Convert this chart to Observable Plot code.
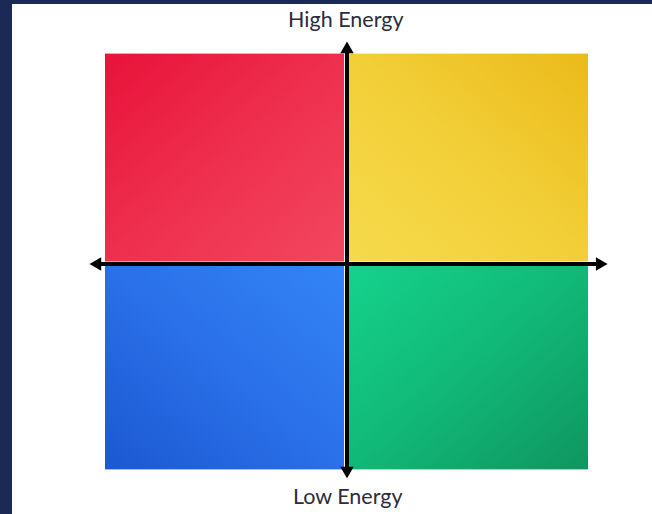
<!DOCTYPE html>
<html>
<head>
<meta charset="utf-8">
<script src="https://cdn.jsdelivr.net/npm/d3@7"></script>
<script src="https://cdn.jsdelivr.net/npm/@observablehq/plot@0.6"></script>
<style>
  html, body { margin: 0; padding: 0; background: #1b2a55; width: 652px; height: 514px; overflow: hidden; }
  #frame { position: absolute; left: 12px; top: 4px; width: 640px; height: 510px; background: #ffffff; }
</style>
</head>
<body>
<div id="frame"></div>
<script>
// Quadrants (data units: axis crossing at 0,0)
const quadrants = ["Red", "Yellow", "Blue", "Green"];
const quadX1 = [-100, 1, -100, 1];
const quadX2 = [-1, 100, -1, 100];
const quadY1 = [1, 1, -98, -98];
const quadY2 = [100, 100, -1, -1];
const quadGradients = ["url(#gRed)", "url(#gYellow)", "url(#gBlue)", "url(#gGreen)"];

// Axis lines
const axisNames = ["horizontal", "vertical"];
const axisX1 = [-104, 0];
const axisX2 = [105.5, 0];
const axisY1 = [0, -99];
const axisY2 = [0, 103];

// Arrow heads
const headNames = ["left", "right", "top", "bottom"];
const headX = [-103.4, 104.7, 0, 0];
const headY = [0, 0, 102.3, -98.3];
const headRotate = [270, 90, 0, 180];

// Labels
const labels = ["High Energy", "Low Energy"];
const labelX = [-0.5, 0.3];
const labelY = [113, -114];

const quadData = quadrants.map((q, i) => ({q, x1: quadX1[i], x2: quadX2[i], y1: quadY1[i], y2: quadY2[i], fill: quadGradients[i]}));
const axisData = axisNames.map((n, i) => ({n, x1: axisX1[i], x2: axisX2[i], y1: axisY1[i], y2: axisY2[i]}));
const headData = headNames.map((n, i) => ({n, x: headX[i], y: headY[i], r: headRotate[i]}));
const labelData = labels.map((t, i) => ({t, x: labelX[i], y: labelY[i]}));

const chart = Plot.plot({
  width: 640,
  height: 510,
  margin: 0,
  style: {background: "white", overflow: "visible"},
  x: {domain: [-100, 100], range: [93, 576], axis: null},
  y: {domain: [-100, 100], range: [469.6, 49.6], axis: null},
  color: {type: "identity"},
  marks: [
    Plot.rect(quadData, {x1: "x1", x2: "x2", y1: "y1", y2: "y2", fill: "fill"}),
    Plot.link(axisData, {x1: "x1", y1: "y1", x2: "x2", y2: "y2", stroke: "#000", strokeWidth: 4}),
    Plot.dot(headData, {x: "x", y: "y", rotate: "r", symbol: "triangle", r: 5, fill: "#000", stroke: "none"}),
    Plot.text(labelData, {x: "x", y: "y", text: "t", lineAnchor: "bottom", fontSize: 21.5, fontFamily: "Lato", fill: "#2c2c3c"})
  ]
});

// Gradient definitions
const ns = "http://www.w3.org/2000/svg";
const defs = document.createElementNS(ns, "defs");
const grads = [
  {id: "gRed", x1: 0, y1: 0, x2: 1, y2: 1, stops: ["#e8133a", "#ee2f4d", "#f3475f"]},
  {id: "gYellow", x1: 0, y1: 1, x2: 1, y2: 0, stops: ["#f6da4c", "#f2cf38", "#ebba1a"]},
  {id: "gBlue", x1: 0, y1: 1, x2: 1, y2: 0, stops: ["#1b58d2", "#2a70e8", "#3384f6"]},
  {id: "gGreen", x1: 0, y1: 0, x2: 1, y2: 1, stops: ["#15d28c", "#11b877", "#0f9660"]}
];
for (const g of grads) {
  const lg = document.createElementNS(ns, "linearGradient");
  lg.setAttribute("id", g.id);
  lg.setAttribute("x1", g.x1); lg.setAttribute("y1", g.y1);
  lg.setAttribute("x2", g.x2); lg.setAttribute("y2", g.y2);
  g.stops.forEach((c, i) => {
    const s = document.createElementNS(ns, "stop");
    s.setAttribute("offset", (i / (g.stops.length - 1)).toString());
    s.setAttribute("stop-color", c);
    lg.appendChild(s);
  });
  defs.appendChild(lg);
}
chart.insertBefore(defs, chart.firstChild);
document.getElementById("frame").appendChild(chart);
</script>
</body>
</html>
